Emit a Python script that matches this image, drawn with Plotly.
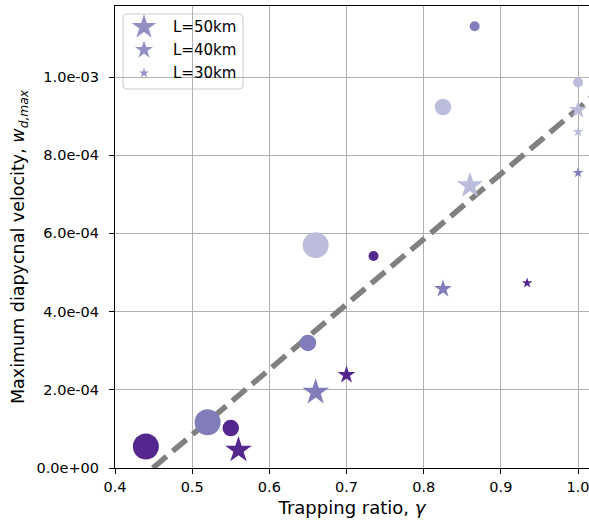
import plotly.graph_objects as go

# ---------------- data ----------------
circle_x = [0.44, 0.52, 0.55, 0.65, 0.66, 0.735, 0.825, 0.866, 1.0]
circle_y = [5.5e-5, 1.17e-4, 1.02e-4, 3.2e-4, 5.7e-4, 5.42e-4, 9.23e-4, 1.13e-3, 9.86e-4]
circle_level = ["dark", "medium", "dark", "medium", "light", "dark", "light", "medium", "light"]
circle_L = [50, 50, 40, 40, 50, 30, 40, 30, 30]

star_x = [0.56, 0.66, 0.70, 0.825, 0.86, 0.934, 1.0, 1.0, 1.0]
star_y = [4.6e-5, 1.94e-4, 2.38e-4, 4.58e-4, 7.22e-4, 4.73e-4, 9.16e-4, 8.6e-4, 7.55e-4]
star_level = ["dark", "medium", "dark", "medium", "light", "dark", "light", "light", "medium"]
star_L = [50, 50, 40, 40, 50, 30, 40, 30, 30]

fit_x = [0.449, 1.03]
fit_y = [0.0, 9.69e-4]

legend_L = [50, 40, 30]
legend_labels = ["L=50km", "L=40km", "L=30km"]

y_tickvals = [0.0, 2e-4, 4e-4, 6e-4, 8e-4, 1e-3]
y_ticktext = ["0.0e+00", "2.0e-04", "4.0e-04", "6.0e-04", "8.0e-04", "1.0e-03"]
x_tickvals = [0.4, 0.5, 0.6, 0.7, 0.8, 0.9, 1.0]
x_ticktext = ["0.4", "0.5", "0.6", "0.7", "0.8", "0.9", "1.0"]

# ---------------- styles ----------------
COLORS = {"dark": "#54278f", "medium": "#807dba", "light": "#bcbddc"}
CIRCLE_SIZE = {50: 26, 40: 16.5, 30: 10}
STAR_SIZE = {50: 20, 40: 13.5, 30: 8}
LEG_STAR_SIZE = {50: 18.5, 40: 13.5, 30: 7.5}
FONT = "DejaVu Sans"

W, H = 589, 528
ML, MR, MT, MB = 115, 0, 6, 60
PW, PH = W - ML - MR, H - MT - MB


def px_to_paper(px, py):
    return (px - ML) / PW, (H - MB - py) / PH


fig = go.Figure()

fig.add_trace(go.Scatter(
    x=fit_x, y=fit_y, mode="lines",
    line=dict(color="#808080", width=5.5, dash="18px,8px"),
    hoverinfo="skip", showlegend=False))

fig.add_trace(go.Scatter(
    x=circle_x, y=circle_y, mode="markers",
    marker=dict(symbol="circle", opacity=1,
                size=[CIRCLE_SIZE[l] for l in circle_L],
                color=[COLORS[c] for c in circle_level],
                line=dict(width=0)),
    showlegend=False))

fig.add_trace(go.Scatter(
    x=star_x, y=star_y, mode="markers",
    marker=dict(symbol="star", opacity=1,
                size=[STAR_SIZE[l] for l in star_L],
                color=[COLORS[c] for c in star_level],
                line=dict(width=0)),
    showlegend=False))

# ---------------- custom legend ----------------
bx0, by0 = px_to_paper(123, 89)
bx1, by1 = px_to_paper(243, 14)
r = 4
rx, ry = r / PW, r / PH
path = (f"M {bx0+rx},{by0} L {bx1-rx},{by0} Q {bx1},{by0} {bx1},{by0+ry} "
        f"L {bx1},{by1-ry} Q {bx1},{by1} {bx1-rx},{by1} L {bx0+rx},{by1} "
        f"Q {bx0},{by1} {bx0},{by1-ry} L {bx0},{by0+ry} Q {bx0},{by0} {bx0+rx},{by0} Z")
fig.add_shape(type="path", path=path, xref="paper", yref="paper",
              fillcolor="rgba(255,255,255,0.8)",
              line=dict(color="#cccccc", width=1), layer="between")

row_py = [27, 50, 73]
leg_x = []
leg_y = []
for py in row_py:
    a, b = px_to_paper(144, py)
    leg_x.append(a)
    leg_y.append(b)

fig.add_trace(go.Scatter(
    x=leg_x, y=leg_y, mode="markers", xaxis="x2", yaxis="y2",
    marker=dict(symbol="star", opacity=1, size=[LEG_STAR_SIZE[l] for l in legend_L],
                color="rgba(128,125,186,0.85)", line=dict(width=0)),
    hoverinfo="skip", showlegend=False))

tx, _ = px_to_paper(171, 0)
for lab, yy in zip(legend_labels, leg_y):
    fig.add_annotation(x=tx, y=yy, xref="paper", yref="paper", text=lab,
                       showarrow=False, xanchor="left", yanchor="middle",
                       font=dict(family=FONT, size=15, color="#000000"))

# y axis title as rotated annotation for precise placement
ytx, yty = px_to_paper(19, 247)
fig.add_annotation(x=ytx, y=yty, xref="paper", yref="paper",
                   text="Maximum diapycnal velocity, <i>w</i><sub><i>d,max</i></sub>",
                   textangle=-90, showarrow=False, xanchor="center", yanchor="middle",
                   font=dict(family=FONT, size=17.5, color="#000000"))

axis_common = dict(
    showgrid=True, gridcolor="#b0b0b0", gridwidth=1,
    showline=True, linecolor="#000000", linewidth=1.2, mirror=True,
    ticks="outside", ticklen=5, tickwidth=1.1, tickcolor="#000000",
    tickfont=dict(family=FONT, size=14.5, color="#000000"),
    zeroline=False, ticklabeloverflow="allow",
)

fig.update_layout(
    width=W, height=H,
    margin=dict(l=ML, r=MR, t=MT, b=MB, pad=0),
    paper_bgcolor="white", plot_bgcolor="white",
    showlegend=False,
    xaxis=dict(range=[0.4, 1.0142], tickvals=x_tickvals, ticktext=x_ticktext,
               title=dict(text="Trapping ratio, <i>γ</i>", standoff=7,
                          font=dict(family=FONT, size=18, color="#000000")),
               **axis_common),
    yaxis=dict(range=[0.0, 1.1816e-3], tickvals=y_tickvals, ticktext=y_ticktext,
               ticklabelstandoff=7,
               **axis_common),
    xaxis2=dict(range=[0, 1], overlaying="x", visible=False, fixedrange=True),
    yaxis2=dict(range=[0, 1], overlaying="y", visible=False, fixedrange=True),
)

fig.write_html("out.html")
